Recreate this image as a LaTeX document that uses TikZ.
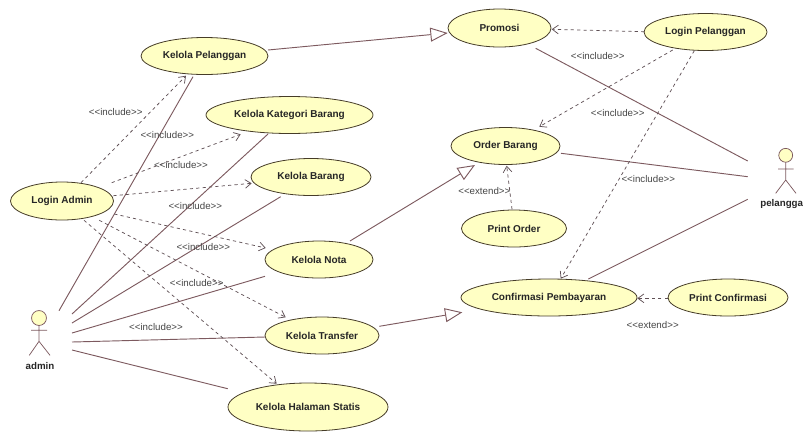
\documentclass[tikz,border=0pt]{standalone}
\usepackage{fontspec}
\setmainfont{Liberation Sans}
\usetikzlibrary{shapes.geometric,arrows.meta}
\definecolor{ucfill}{RGB}{255,255,196}
\definecolor{ucline}{RGB}{70,60,40}
\definecolor{assoc}{RGB}{125,90,95}
\definecolor{dep}{RGB}{95,80,85}
\definecolor{lab}{RGB}{70,70,70}
\tikzset{
  x=0.75pt,y=-0.75pt,
  uc/.style 2 args={ellipse,draw=ucline,fill=ucfill,line width=0.6pt,inner sep=0pt,
    minimum width=#1*0.75pt,minimum height=#2*0.75pt,font=\bfseries\fontsize{7.5}{9}\selectfont,text=black!85},
  assocline/.style={draw=assoc,line width=0.7pt},
  genline/.style={assocline,-{Triangle[open,fill=white,length=13pt,width=10.5pt]}},
  depline/.style={draw=dep,line width=0.55pt,dash pattern=on 2.4pt off 2.4pt,
    -{Straight Barb[length=4.5pt,width=6.5pt]}},
  stereo/.style={font=\fontsize{7.3}{8}\selectfont,text=lab,inner sep=0pt},
  actorname/.style={font=\bfseries\fontsize{7.3}{9}\selectfont,text=black!85,inner sep=0pt},
  actorline/.style={draw=assoc,line width=0.55pt},
}
\newcommand{\rel}[3]{([shift={(#2,#3)}]#1.center)}
\begin{document}
\begin{tikzpicture}
\useasboundingbox (0,0) rectangle (805,433);
% use cases
\node[uc={127}{37}] (pel) at (204.5,56) {Kelola Pelanggan};
\node[uc={167}{37}] (kat) at (289.5,115) {Kelola Kategori Barang};
\node[uc={120}{37}] (bar) at (311,177) {Kelola Barang};
\node[uc={103}{38}] (loga) at (62,201) {Login Admin};
\node[uc={108}{37}] (nota) at (319,259.5) {Kelola Nota};
\node[uc={114}{37}] (tra) at (322,335.5) {Kelola Transfer};
\node[uc={160}{48}] (hal) at (308,407) {Kelola Halaman Statis};
\node[uc={103}{38}] (pro) at (499.5,28) {Promosi};
\node[uc={123}{37}] (logp) at (705.5,32) {Login Pelanggan};
\node[uc={109}{37}] (ord) at (505.5,146) {Order Barang};
\node[uc={105}{37}] (pord) at (514,228.5) {Print Order};
\node[uc={176}{37}] (con) at (549,297.5) {Confirmasi Pembayaran};
\node[uc={120}{37}] (pcon) at (728,297.5) {Print Confirmasi};
% actors
\node[actorname] (admin) at (40,366.5) {admin};
\node[actorname] (pelangga) at (781.7,204) {pelangga};
\draw[actorline,fill=ucfill] (39,318) circle (5.6pt);
\draw[actorline] (39,325.5) -- (39,341.3) -- (29.3,355.3) (39,341.3) -- (50,355.3) (31,330.3) -- (47,330.3);
\draw[actorline,fill=ucfill] (785.7,155.3) circle (5.2pt);
\draw[actorline] (785.7,162.3) -- (785.7,180) -- (775.7,193.3) (785.7,180) -- (796,193.3) (778,169) -- (793.5,169);
% free ends of associations beside the actors
\coordinate (a1) at (59,310.7);
\coordinate (a2) at (72,314);
\coordinate (a3) at (72,323);
\coordinate (a4) at (72,333);
\coordinate (a5) at (72,342);
\coordinate (a6) at (72,350);
\coordinate (p1) at (747.7,161);
\coordinate (p2) at (747.7,176.7);
\coordinate (p3) at (747.7,199.3);
% associations
\draw[assocline] (a1) -- \rel{pel}{-11.5}{20.7};
\draw[assocline] (a2) -- \rel{kat}{-21.5}{19};
\draw[assocline] (a3) -- \rel{bar}{-30.3}{19.7};
\draw[assocline] (a4) -- \rel{nota}{-54}{16.8};
\draw[assocline] (a5) -- \rel{tra}{-57}{1.5};
\draw[assocline] (a6) -- \rel{hal}{-80.3}{-18.3};
\draw[assocline] \rel{pro}{36.2}{20.3} -- (p1);
\draw[assocline] \rel{ord}{55.5}{7.3} -- (p2);
\draw[assocline] \rel{con}{39.3}{-18.5} -- (p3);
% generalisations
\draw[genline] \rel{pel}{63.5}{-6} -- \rel{pro}{-51.8}{5};
\draw[genline] \rel{nota}{31}{-18.5} -- \rel{ord}{-30.5}{19};
\draw[genline] \rel{tra}{57.3}{-9.2} -- \rel{con}{-86.7}{14.8};
% dependencies
\draw[depline] \rel{loga}{19}{-18.3} -- \rel{pel}{-18.5}{19.7};
\draw[depline] \rel{loga}{49.7}{-18.3} -- \rel{kat}{-48.8}{19.3};
\draw[depline] \rel{loga}{51.3}{-5.3} -- \rel{bar}{-59.3}{6.3};
\draw[depline] \rel{loga}{52.3}{13} -- \rel{nota}{-53.3}{-11.5};
\draw[depline] \rel{loga}{37.3}{19.3} -- \rel{tra}{-36.3}{-18.2};
\draw[depline] \rel{loga}{22}{19.3} -- \rel{hal}{-31.3}{-23.3};
\draw[depline] \rel{logp}{-61.2}{-0.3} -- \rel{pro}{52.2}{1.3};
\draw[depline] \rel{logp}{-32.8}{18} -- \rel{ord}{33.8}{-19.3};
\draw[depline] \rel{logp}{-11.2}{18.7} -- \rel{con}{11.7}{-18.8};
\draw[depline] \rel{pord}{-2}{-19.2} -- \rel{ord}{1.2}{19.7};
\draw[depline] \rel{pcon}{-60.3}{0.8} -- \rel{con}{88.3}{0.8};
% stereotypes
\node[stereo] (s1) at (115.7,111.7) {<{}<include>{}>};
\node[stereo] (s2) at (167.3,134.7) {<{}<include>{}>};
\node[stereo] (s3) at (181,165.3) {<{}<include>{}>};
\node[stereo] (s4) at (195.3,206.3) {<{}<include>{}>};
\node[stereo] (s5) at (203.3,247) {<{}<include>{}>};
\node[stereo] (s6) at (196.7,283) {<{}<include>{}>};
\node[stereo] (s7) at (156,327) {<{}<include>{}>};
\node[stereo] (s8) at (597.7,56.3) {<{}<include>{}>};
\node[stereo] (s9) at (617.7,112.7) {<{}<include>{}>};
\node[stereo] (s10) at (648.3,179) {<{}<include>{}>};
\node[stereo] (s11) at (484.3,191) {<{}<extend>{}>};
\node[stereo] (s12) at (652.7,324.7) {<{}<extend>{}>};
\end{tikzpicture}
\end{document}
